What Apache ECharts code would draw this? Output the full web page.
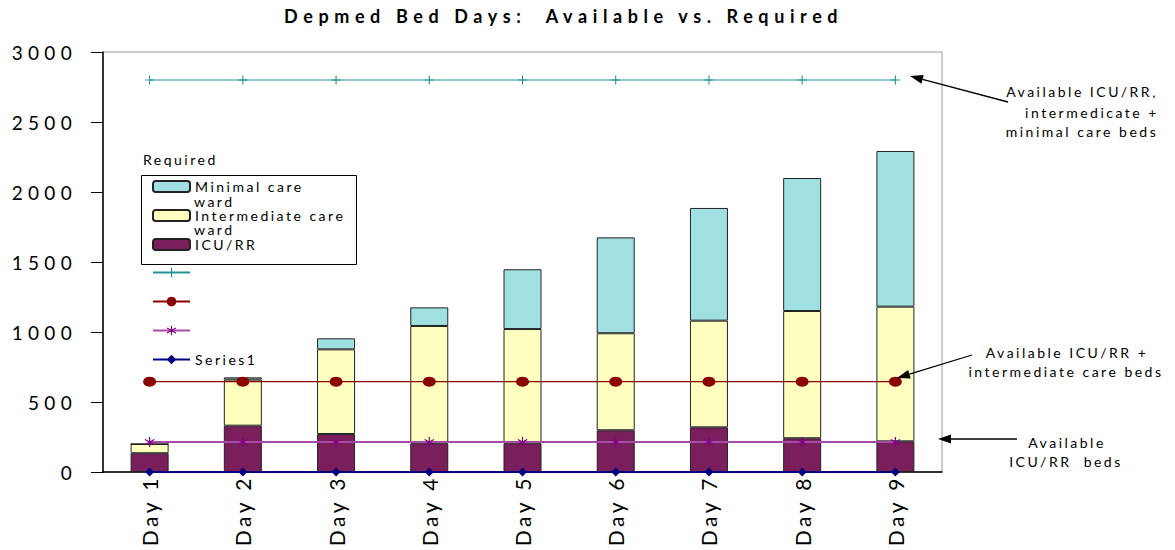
<!DOCTYPE html>
<html>
<head>
<meta charset="utf-8">
<script src="https://cdn.jsdelivr.net/npm/echarts@6/dist/echarts.min.js"></script>
<style>
  html, body { margin: 0; padding: 0; background: #fff; }
  #main { width: 1175px; height: 550px; }
</style>
</head>
<body>
<div id="main"></div>
<script>
// categories
const days = ['Day 1', 'Day 2', 'Day 3', 'Day 4', 'Day 5', 'Day 6', 'Day 7', 'Day 8', 'Day 9'];

// required bed days (stacked)
const icuRR = [134, 331, 271, 205, 205, 298, 319, 241, 219];
const intermediateWard = [66, 329, 605, 838, 816, 693, 762, 909, 962];
const minimalWard = [0, 16, 79, 133, 427, 685, 805, 950, 1112];

// available beds (lines)
const availAll = [2800, 2800, 2800, 2800, 2800, 2800, 2800, 2800, 2800];
const availIcuInter = [645, 645, 645, 645, 645, 645, 645, 645, 645];
const availIcu = [215, 215, 215, 215, 215, 215, 215, 215, 215];
const series1 = [0, 0, 0, 0, 0, 0, 0, 0, 0];

const yTicks = [0, 500, 1000, 1500, 2000, 2500, 3000];

const FONT = 'Lato';
const colors = {
  icu: '#7b1f5c',
  inter: '#ffffc0',
  minimal: '#a0e0e0',
  teal: '#229494',
  red: '#8b0000',
  magenta: '#a64ca6',
  magentaMark: '#800080',
  blue: '#000080'
};

// first line of the wrapped legend labels
const legendLines = {
  'Minimal care ward': 'Minimal care',
  'Intermediate care ward': 'Intermediate care',
  'ICU/RR': 'ICU/RR'
};

const plusSymbol = 'path://M4.4,0H5.6V4.4H10V5.6H5.6V10H4.4V5.6H0V4.4H4.4Z';
const starSymbol = 'path://M4.5,0H5.5V3.6L8.6,1.8L9.1,2.7L6,4.5L9.1,6.3L8.6,7.2L5.5,5.4V9H4.5V5.4L1.4,7.2L0.9,6.3L4,4.5L0.9,2.7L1.4,1.8L4.5,3.6Z';

function arrow(x1, y1, x2, y2) {
  const a = Math.atan2(y2 - y1, x2 - x1);
  const len = 13, w = 4.5;
  const bx = x2 - len * Math.cos(a), by = y2 - len * Math.sin(a);
  const px = -Math.sin(a) * w, py = Math.cos(a) * w;
  return [
    { type: 'line', shape: { x1: x1, y1: y1, x2: bx, y2: by }, style: { stroke: '#000', lineWidth: 1.3 }, z: 100 },
    { type: 'polygon', shape: { points: [[x2, y2], [bx + px, by + py], [bx - px, by - py]] }, style: { fill: '#000' }, z: 100 }
  ];
}

function note(text, x, y) {
  return {
    type: 'text', z: 100,
    style: { text: text, x: x, y: y, align: 'center', verticalAlign: 'middle', fontSize: 14, fontFamily: FONT, fill: '#000' }
  };
}

const chart = echarts.init(document.getElementById('main'), null, { renderer: 'svg' });

const option = {
  animation: false,
  backgroundColor: '#fff',
  textStyle: { fontFamily: FONT, color: '#000' },
  title: {
    text: 'Depmed Bed Days:  Available vs. Required',
    left: 284,
    top: 7,
    padding: 0,
    textStyle: { fontSize: 18, fontWeight: 'bold', fontFamily: FONT, color: '#000' }
  },
  grid: {
    left: 103, right: 233, top: 52, bottom: 78,
    show: true, borderColor: '#999', borderWidth: 1, backgroundColor: 'transparent'
  },
  legend: [
    {
      orient: 'vertical',
      left: 152, top: 178, padding: 0,
      itemWidth: 37, itemHeight: 11, itemGap: 12,
      data: ['Minimal care ward', 'Intermediate care ward', 'ICU/RR'],
      formatter: function (name) { return legendLines[name]; },
      textStyle: { fontSize: 14, lineHeight: 17, fontFamily: FONT, color: '#000' }
    },
    {
      orient: 'vertical',
      left: 152, top: 264, padding: 0,
      itemWidth: 37, itemHeight: 12, itemGap: 12,
      data: [
        'Available ICU/RR, intermediate + minimal care beds',
        'Available ICU/RR + intermediate care beds',
        'Available ICU/RR beds',
        'Series1'
      ],
      formatter: function (name) { return name === 'Series1' ? name : ' '; },
      textStyle: { fontSize: 14, lineHeight: 17, fontFamily: FONT, color: '#000' }
    }
  ],
  xAxis: {
    type: 'category',
    data: days,
    axisLine: { lineStyle: { color: '#000', width: 1.5 } },
    axisTick: { inside: true, length: 7, lineStyle: { color: '#000' } },
    axisLabel: { rotate: 90, interval: 0, margin: 3, fontSize: 21, fontFamily: FONT, color: '#000' },
    splitLine: { show: false }
  },
  yAxis: {
    type: 'value',
    min: yTicks[0],
    max: yTicks[yTicks.length - 1],
    interval: yTicks[1] - yTicks[0],
    axisLine: { show: true, lineStyle: { color: '#000', width: 1.5 } },
    axisTick: { show: true, length: 12, lineStyle: { color: '#000' } },
    axisLabel: {
      margin: 26, fontSize: 19, fontFamily: FONT, color: '#000',
      formatter: function (v) { return String(v); }
    },
    splitLine: { show: false }
  },
  series: [
    {
      name: 'ICU/RR', type: 'bar', stack: 'req', barWidth: 38, data: icuRR,
      itemStyle: { color: colors.icu, borderColor: '#222', borderWidth: 1 }
    },
    {
      name: 'Intermediate care ward', type: 'bar', stack: 'req', barWidth: 38, data: intermediateWard,
      itemStyle: { color: colors.inter, borderColor: '#222', borderWidth: 1 }
    },
    {
      name: 'Minimal care ward', type: 'bar', stack: 'req', barWidth: 38, data: minimalWard,
      itemStyle: { color: colors.minimal, borderColor: '#222', borderWidth: 1 }
    },
    {
      name: 'Available ICU/RR, intermediate + minimal care beds', type: 'line', data: availAll, z: 5,
      symbol: plusSymbol, symbolSize: 9, showAllSymbol: true,
      lineStyle: { color: colors.teal, width: 1 },
      itemStyle: { color: colors.teal }
    },
    {
      name: 'Available ICU/RR + intermediate care beds', type: 'line', data: availIcuInter, z: 5,
      symbol: 'circle', symbolSize: [13, 10], showAllSymbol: true,
      lineStyle: { color: colors.red, width: 1.2 },
      itemStyle: { color: colors.red }
    },
    {
      name: 'Available ICU/RR beds', type: 'line', data: availIcu, z: 5,
      symbol: starSymbol, symbolSize: 10, showAllSymbol: true,
      lineStyle: { color: colors.magenta, width: 2 },
      itemStyle: { color: colors.magentaMark }
    },
    {
      name: 'Series1', type: 'line', data: series1, z: 6,
      symbol: 'diamond', symbolSize: 9, showAllSymbol: true,
      lineStyle: { color: colors.blue, width: 2 },
      itemStyle: { color: colors.blue }
    }
  ],
  graphic: [
    {
      type: 'text', z: 100,
      style: { text: 'Required', x: 143, y: 159, verticalAlign: 'middle', fontSize: 14, fontFamily: FONT, fill: '#000' }
    },
    {
      type: 'rect', z: 90,
      shape: { x: 141.5, y: 175.5, width: 215, height: 89 },
      style: { fill: 'none', stroke: '#000', lineWidth: 1 }
    },
    {
      type: 'text', z: 100,
      style: { text: 'ward', x: 194, y: 201, verticalAlign: 'middle', fontSize: 14, fontFamily: FONT, fill: '#000' }
    },
    {
      type: 'text', z: 100,
      style: { text: 'ward', x: 194, y: 229, verticalAlign: 'middle', fontSize: 14, fontFamily: FONT, fill: '#000' }
    },
    note('Available ICU/RR,', 1082, 91),
    note('intermedicate +', 1092, 112),
    note('minimal care beds', 1082, 131),
    note('Available ICU/RR +', 1067, 352),
    note('intermediate care beds', 1066, 371),
    note('Available', 1067, 442),
    note('ICU/RR  beds', 1066, 461)
  ].concat(arrow(1008, 102, 910, 76), arrow(972, 355, 897, 378), arrow(1017, 439, 938, 439))
};

chart.setOption(option);

// the original uses wide letter spacing; svg text takes it as a css property
const spacingBySize = { 18: 5.6, 19: 5.3, 21: 3.5, 14: 2.5 };
function spaceText() {
  document.querySelectorAll('#main text').forEach(function (el) {
    const fs = Math.round(parseFloat(getComputedStyle(el).fontSize));
    el.style.letterSpacing = (spacingBySize[fs] || 2.5) + 'px';
  });
}
chart.on('finished', spaceText);
spaceText();
setTimeout(spaceText, 50);
</script>
</body>
</html>
